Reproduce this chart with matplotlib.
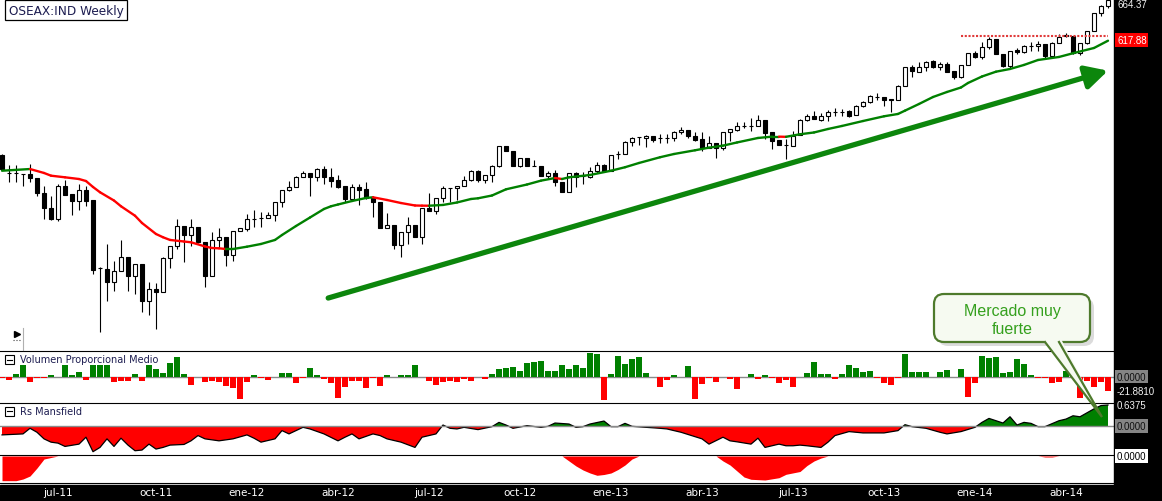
import matplotlib
matplotlib.use('Agg')
import matplotlib.pyplot as plt
import numpy as np
import pandas as pd
from matplotlib.collections import LineCollection
from matplotlib.patches import FancyBboxPatch, Rectangle, Polygon
from matplotlib.transforms import blended_transform_factory, ScaledTranslation

# ---- data (weekly bars, OSEAX) ----
first_week = '2011-05-06'

opens = [464.2, 440.6, 440.6, 439.3, 439.3, 434.2, 414.8, 395.4, 381.6, 423.8,
         413.9, 405.2, 419.4, 406.1, 318.3, 317.0, 299.8, 314.1, 332.1, 308.4,
         323.5, 276.1, 291.2, 287.7, 331.2, 347.1, 372.2, 361.3, 370.9, 351.5,
         307.6, 354.9, 358.0, 335.5, 365.7, 368.7, 381.6, 382.9, 382.5, 387.1,
         403.2, 419.0, 422.5, 435.4, 441.0, 435.4, 445.8, 435.4, 432.0, 423.8,
         407.4, 422.5, 420.3, 408.7, 403.9, 369.6, 373.8, 348.0, 364.4, 373.8,
         358.7, 395.8, 392.3, 408.3, 421.2, 421.2, 424.6, 432.0, 444.0, 432.3,
         438.4, 450.4, 475.5, 469.0, 450.4, 460.0, 450.4, 449.6, 437.5, 441.0,
         429.7, 416.8, 440.6, 437.5, 435.4, 444.0, 451.3, 444.0, 465.5, 465.5,
         480.6, 487.1, 485.8, 488.4, 485.8, 485.8, 485.8, 493.6, 496.5, 489.2,
         484.9, 473.3, 479.3, 473.3, 493.6, 496.9, 502.1, 502.1, 502.1, 509.4,
         493.6, 483.6, 477.5, 476.3, 490.1, 509.4, 515.0, 509.8, 514.6, 519.4,
         519.4, 520.7, 516.3, 527.1, 532.3, 539.1, 538.8, 536.5, 535.3, 553.7,
         577.5, 571.8, 577.5, 585.6, 578.3, 581.4, 572.7, 565.4, 580.5, 595.6,
         591.2, 603.3, 614.0, 594.7, 579.6, 600.2, 596.9, 605.4, 604.6, 607.6,
         592.5, 608.5, 617.5, 618.3, 595.6, 608.5, 624.7, 647.2, 656.3]
highs = [465.5, 451.3, 451.3, 439.7, 452.6, 434.2, 424.6, 411.7, 426.8, 432.3,
         413.9, 426.8, 423.8, 406.1, 319.2, 349.3, 327.7, 354.5, 332.1, 323.5,
         323.5, 299.8, 298.6, 332.1, 347.1, 381.6, 372.2, 381.6, 370.9, 351.5,
         364.4, 370.0, 358.0, 365.7, 369.6, 388.0, 393.2, 390.2, 391.0, 403.2,
         419.0, 431.1, 437.5, 444.0, 441.0, 447.1, 449.6, 447.1, 438.4, 423.8,
         426.8, 426.8, 429.7, 410.9, 403.9, 389.3, 373.8, 364.4, 384.6, 373.8,
         395.4, 415.2, 408.3, 424.6, 421.2, 424.6, 437.5, 444.9, 444.9, 438.4,
         451.7, 475.5, 475.5, 469.0, 460.0, 460.0, 458.2, 449.6, 444.0, 445.3,
         429.7, 440.6, 442.7, 442.7, 448.4, 454.8, 452.6, 464.6, 469.8, 482.7,
         487.1, 487.1, 490.1, 488.4, 491.4, 491.4, 495.6, 500.0, 496.5, 493.6,
         493.6, 488.4, 479.3, 493.6, 497.8, 506.5, 506.5, 511.6, 515.9, 509.4,
         493.6, 483.6, 484.9, 495.6, 510.7, 516.8, 520.7, 518.1, 522.7, 524.6,
         523.6, 522.7, 528.8, 534.4, 541.7, 543.9, 538.8, 536.5, 554.6, 577.5,
         580.9, 584.0, 586.0, 586.9, 584.7, 584.0, 572.7, 580.5, 595.6, 598.9,
         609.8, 616.2, 614.0, 594.7, 598.9, 602.0, 606.7, 609.8, 611.1, 607.6,
         609.8, 620.5, 621.4, 618.3, 608.5, 624.7, 647.2, 657.9, 665.5]
lows = [444.9, 429.7, 429.7, 424.6, 429.0, 411.7, 381.6, 380.3, 379.4, 413.0,
        387.1, 393.6, 398.8, 310.2, 236.0, 276.1, 289.0, 314.1, 289.0, 284.7,
        261.9, 258.0, 239.5, 287.7, 318.3, 342.8, 325.7, 346.3, 350.6, 293.4,
        307.6, 344.1, 320.5, 327.7, 365.7, 366.5, 370.9, 370.9, 382.5, 379.4,
        396.7, 418.1, 422.5, 435.4, 410.9, 431.1, 426.8, 422.5, 421.2, 403.9,
        405.2, 399.7, 407.4, 383.8, 369.6, 369.6, 342.8, 332.9, 349.3, 358.7,
        349.3, 392.3, 388.0, 403.9, 403.9, 406.5, 424.6, 431.1, 429.7, 428.1,
        429.7, 448.4, 469.0, 450.4, 448.4, 449.6, 449.6, 437.5, 433.2, 424.6,
        416.1, 416.8, 423.3, 426.8, 434.2, 440.6, 443.2, 444.0, 459.1, 465.5,
        475.5, 477.5, 475.0, 480.6, 479.7, 479.7, 482.7, 491.4, 485.8, 482.7,
        469.0, 473.3, 460.0, 471.1, 482.7, 495.6, 498.7, 495.6, 501.3, 484.9,
        472.0, 477.5, 459.1, 476.3, 490.1, 508.5, 510.7, 507.8, 508.1, 514.2,
        514.2, 512.9, 516.3, 525.8, 531.4, 535.7, 527.9, 520.2, 535.3, 553.7,
        564.6, 571.8, 573.1, 576.2, 574.4, 571.0, 562.4, 564.1, 580.5, 589.1,
        588.2, 601.1, 594.7, 577.5, 576.6, 594.7, 596.0, 598.9, 598.9, 588.2,
        589.5, 608.5, 616.2, 594.7, 593.4, 607.6, 624.7, 644.1, 653.7]
closes = [446.1, 440.6, 440.6, 439.3, 434.2, 414.8, 395.4, 381.6, 423.8, 413.0,
          405.2, 419.4, 405.2, 316.1, 318.3, 299.8, 314.1, 332.1, 308.4, 323.5,
          276.1, 291.2, 287.7, 331.2, 347.1, 372.2, 360.9, 370.9, 351.5, 307.6,
          354.9, 358.0, 335.5, 365.7, 369.6, 381.6, 381.6, 382.9, 387.1, 403.2,
          419.0, 422.5, 435.4, 441.0, 435.4, 445.8, 435.4, 431.1, 423.3, 407.4,
          422.5, 419.4, 408.7, 403.9, 369.6, 373.8, 348.0, 364.4, 373.8, 358.7,
          395.4, 392.3, 408.3, 421.2, 421.2, 424.6, 432.0, 444.0, 432.3, 438.4,
          450.4, 475.5, 469.0, 450.4, 460.0, 450.4, 450.4, 437.5, 441.0, 429.7,
          416.8, 440.6, 436.2, 437.5, 444.0, 451.3, 444.0, 464.6, 465.5, 480.6,
          485.8, 487.1, 488.4, 484.0, 485.8, 485.8, 493.6, 496.5, 489.2, 484.0,
          473.3, 479.3, 473.3, 493.6, 497.8, 501.3, 502.1, 502.1, 509.4, 492.7,
          482.7, 477.5, 477.5, 489.2, 509.4, 515.0, 510.7, 515.0, 519.4, 519.4,
          519.4, 515.0, 527.1, 532.3, 540.0, 539.1, 535.7, 535.3, 553.7, 577.5,
          572.3, 577.5, 584.7, 578.3, 581.4, 571.8, 565.4, 580.5, 595.6, 591.2,
          603.3, 614.0, 594.7, 579.6, 598.9, 596.9, 605.4, 605.4, 607.6, 592.5,
          608.9, 616.2, 619.2, 595.6, 608.5, 624.7, 647.2, 656.3, 664.37]

# moving average (read at sampled weeks)
ma_weeks = [0, 4, 6, 7, 9, 11, 12, 13, 14, 16, 17, 19, 20, 22, 23, 24, 26, 27, 29, 30,
            31, 32, 33, 35, 37, 39, 40, 42, 44, 46, 47, 48, 50, 52, 53, 55, 57, 59, 60, 61,
            63, 65, 67, 68, 70, 72, 75, 77, 79, 80, 81, 84, 87, 89, 91, 94, 96, 99, 101, 103,
            105, 108, 110, 111, 112, 114, 116, 118, 120, 123, 126, 128, 129, 131, 133, 135,
            137, 138, 140, 142, 144, 146, 148, 151, 153, 156, 158]
ma_vals = [443.9, 446.1, 441.0, 437.5, 435.4, 433.2, 430.6, 422.9, 416.1, 405.4,
           398.0, 385.8, 376.4, 362.2, 358.0, 354.5, 352.5, 351.5, 346.1, 344.1,
           343.7, 342.8, 342.8, 345.8, 349.3, 354.5, 360.9, 372.5, 383.5, 394.5,
           398.0, 400.3, 404.8, 408.7, 409.6, 406.1, 402.2, 399.0, 398.8, 398.7,
           399.7, 402.9, 407.4, 408.3, 411.9, 419.9, 426.1, 431.1, 434.5, 433.2,
           435.4, 438.4, 443.9, 448.4, 453.9, 461.3, 465.5, 470.3, 473.7, 476.3,
           480.4, 486.2, 487.9, 487.9, 487.7, 491.0, 493.3, 497.8, 501.7, 508.1,
           514.2, 517.2, 521.5, 530.1, 539.1, 545.6, 551.4, 557.2, 565.6, 571.8,
           575.3, 580.5, 586.9, 590.8, 595.6, 602.4, 611.8]

resistance = 617.88
resistance_weeks = [137, 158]

# Volumen Proporcional Medio
vol = [-2.0, -4.7, 4.7, 18.3, -7.8, -2.0, -2.7, 2.7, 0, 18.3,
       3.1, 7.3, -4.7, 18.3, 18.3, 18.3, -7.8, -6.3, -6.3, 4.2,
       -6.3, 18.3, 12.0, 5.8, 21.4, 30.8, 4.2, -12.5, 0, -8.9,
       -6.3, -7.8, -14.1, -18.3, -34.9, -7.8, 2.7, -1.6, -4.7, 0,
       5.8, 5.8, -9.4, -1.6, 13.6, 2.7, -3.1, -9.8, -32.8, -15.6,
       -6.3, -6.3, -17.2, -1.6, -14.1, 2.7, 0, 2.7, 2.7, 18.3,
       0, -6.3, -12.5, -7.8, -6.3, -7.8, -3.6, -6.3, 0, -3.1,
       4.2, 12.0, 13.6, 15.2, 8.9, 21.4, 23.0, 24.5, 8.9, 8.9,
       18.3, 12.0, 18.3, 13.6, 37.0, 35.5, -35.9, 4.2, 32.4, 19.8,
       27.7, 30.8, 5.8, 0, -15.6, -4.7, 2.7, 0, 16.7, -34.4,
       -10.9, -2.0, -7.8, 0, -3.1, -18.8, 0, 4.2, -3.1, 2.7,
       -1.6, -9.4, -4.7, -15.6, 0, 5.2, 22.4, 4.2, 4.2, -3.1,
       4.2, 18.3, 13.0, 7.8, 8.9, -1.6, -9.8, -12.5, -2.0, 35.5,
       7.3, 7.3, 7.3, 0, 7.3, 10.9, 0, 12.0, -31.3, -9.8,
       32.4, 29.7, 30.8, 6.3, 7.3, 27.7, 19.2, 3.1, -2.0, -2.0,
       -10.5, -7.8, 9.4, 3.1, -33.9, -6.3, -16.7, -7.8, -21.881]

# Rs Mansfield (sampled weeks)
rs_weeks = [0, 3, 4, 5, 6, 7, 8, 9, 11, 12, 13, 14, 15, 16, 17, 18, 19, 20, 21, 22,
            23, 24, 26, 27, 28, 29, 31, 33, 35, 36, 37, 39, 40, 41, 43, 44, 46, 48, 49, 50,
            51, 53, 54, 55, 57, 59, 60, 62, 63, 64, 65, 66, 68, 70, 71, 72, 73, 75, 77, 78,
            79, 81, 82, 83, 84, 86, 87, 88, 89, 90, 92, 94, 95, 97, 100, 101, 103, 104, 105, 107,
            108, 109, 111, 112, 113, 114, 115, 117, 118, 119, 121, 123, 125, 126, 128, 129, 130,
            132, 134, 135, 137, 139, 140, 141, 143, 144, 145, 146, 147, 148, 149, 151, 152, 153,
            154, 156, 157, 158]
rs_vals = [-0.27, -0.24, -0.07, -0.19, -0.39, -0.49, -0.52, -0.62, -0.55, -0.34,
           -0.78, -0.65, -0.39, -0.62, -0.37, -0.58, -0.75, -0.73, -0.55, -0.70,
           -0.65, -0.58, -0.56, -0.45, -0.29, -0.39, -0.45, -0.39, -0.27, -0.37,
           -0.49, -0.39, -0.14, -0.24, -0.04, -0.09, -0.24, -0.45, -0.34, -0.24,
           -0.39, -0.24, -0.29, -0.39, -0.49, -0.65, -0.34, -0.24, 0.03, -0.07,
           -0.09, -0.04, -0.11, -0.02, 0.11, 0.03, -0.07, 0.01, -0.04, -0.01,
           0.09, 0.06, -0.04, -0.02, 0.06, 0.15, -0.02, -0.02, 0.08, -0.01,
           -0.04, -0.07, -0.09, -0.19, -0.39, -0.55, -0.34, -0.45, -0.48, -0.55,
           -0.37, -0.65, -0.55, -0.60, -0.60, -0.58, -0.60, -0.65, -0.49, -0.29,
           -0.17, -0.21, -0.21, -0.21, -0.14, 0.04, -0.02, -0.07, -0.19, -0.24,
           -0.17, -0.04, 0.11, 0.23, 0.09, 0.28, 0.03, 0.11, 0.08, -0.02,
           -0.02, 0.16, 0.21, 0.31, 0.28, 0.52, 0.62, 0.6375]

# third indicator (unlabelled, only negative areas)
bot_weeks = [0, 1, 2, 3, 4, 5, 6, 7, 8,
             80, 81, 82, 83, 84, 85, 86, 87, 88, 89, 90, 91,
             102, 103, 104, 105, 106, 107, 109, 111, 112, 114, 115, 116, 117, 118,
             148, 149, 150, 151, 158]
bot_vals = [-24.7, -24.7, -24.7, -23, -20, -12, -3, -1.5, 0,
            0, -5, -10, -14, -17, -19.3, -18.5, -17, -13.5, -9, -3, 0,
            0, -5, -9, -15, -21, -23.3, -24, -21.7, -18.3, -15.5, -9.5, -5, -2, 0,
            0, -1, -1, 0, 0]

meses = {1: 'ene', 4: 'abr', 7: 'jul', 10: 'oct'}

# ---- figure layout (pixel based) ----
W, H = 1162, 502
PW = 1114
GREEN = '#008000'
RED = '#ff0000'
NAVY = '#1c1c50'

fig = plt.figure(figsize=(W / 100, H / 100), dpi=100)
fig.patch.set_facecolor('white')


def rect(top, bottom):
    return [0, 1 - bottom / H, PW / W, (bottom - top) / H]


ax = fig.add_axes(rect(0, 352))
axv = fig.add_axes(rect(352, 404), sharex=ax)
axr = fig.add_axes(rect(404, 456), sharex=ax)
axb = fig.add_axes(rect(456, 484), sharex=ax)

n = len(closes)
x = np.arange(n)
for a in (ax, axv, axr, axb):
    a.set_xlim(-2 / 7, (PW - 2) / 7)
    a.set_xticks([])
    a.set_yticks([])
    for s in a.spines.values():
        s.set_visible(False)
for a in (axv, axr, axb):
    a.spines['top'].set_visible(True)
    a.spines['top'].set_linewidth(0.8)
axb.spines['bottom'].set_visible(True)
axb.spines['bottom'].set_linewidth(0.8)

# ---- price panel ----
o = np.array(opens); h = np.array(highs); l = np.array(lows); c = np.array(closes)
up = c >= o
lo = np.minimum(o, c)
bh = np.abs(c - o)
ax.vlines(x, l, h, color='black', lw=0.8, zorder=2)
ax.bar(x[up], bh[up], bottom=lo[up], width=0.68, color='white', edgecolor='black', lw=0.8, zorder=3)
ax.bar(x[~up], bh[~up], bottom=lo[~up], width=0.68, color='black', edgecolor='black', lw=0.8, zorder=3)

pts = np.column_stack([ma_weeks, ma_vals])
segs = np.stack([pts[:-1], pts[1:]], axis=1)
seg_cols = np.where(np.diff(ma_vals) < 0, RED, GREEN)
ax.add_collection(LineCollection(segs, colors=seg_cols, lw=1.7, zorder=4, capstyle='round'))

ax.hlines(resistance, resistance_weeks[0], resistance_weeks[1], colors='#e03a3a',
          linestyles=(0, (1, 0.8)), lw=1.5, zorder=4)

# trend arrow
ax.annotate('', xy=(158.0, 573.1), xytext=(46.6, 279.5),
            arrowprops=dict(arrowstyle='-|>,head_length=0.95,head_width=0.5', lw=3.8,
                            color='#0c860c', shrinkA=0, shrinkB=0, mutation_scale=14),
            zorder=5)
ax.set_ylim(211.1, 665.66)

# ---- volume panel ----
vol = np.array(vol)
axv.bar(x, vol, width=0.72, color=np.where(vol >= 0, GREEN, RED), lw=0, zorder=2)
axv.axhline(0, color='#8a8a8a', lw=1, zorder=1)
axv.set_ylim(-41.1, 40.2)

# ---- Rs Mansfield ----
rsw = np.array(rs_weeks); rsv = np.array(rs_vals)
axr.fill_between(rsw, rsv, 0, where=rsv >= 0, interpolate=True, color=GREEN, lw=0)
axr.fill_between(rsw, rsv, 0, where=rsv <= 0, interpolate=True, color=RED, lw=0)
axr.plot(rsw, rsv, color='black', lw=0.9)
axr.axhline(0, color='#8a8a8a', lw=1)
axr.set_ylim(-0.880, 0.698)

# ---- bottom indicator ----
axb.fill_between(bot_weeks, bot_vals, 0, color=RED, lw=0)
axb.set_ylim(-27, 1)

# ---- black frames ----
fig.add_artist(Rectangle((PW / W, 0), 1 - PW / W, 1, transform=fig.transFigure,
                         color='black', zorder=0.5))
fig.add_artist(Rectangle((0, 0), 1, 16 / H, transform=fig.transFigure,
                         color='black', zorder=0.5))

# date labels
dates = pd.date_range(first_week, periods=n, freq='W-FRI')
month = dates.month.values
tr_x = blended_transform_factory(axb.transData, fig.transFigure)
for i in range(1, n):
    if month[i] != month[i - 1] and month[i] in meses:
        fig.text(i, 1 - 493 / H, f"{meses[month[i]]}-{dates[i].year % 100:02d}",
                 transform=tr_x, color='white', ha='center', va='center', fontsize=7.5)


# right side value labels
def side_label(axis, val, txt, fg='#f2f2f2', bg=None, dy=0):
    tr = blended_transform_factory(fig.transFigure, axis.transData)
    if dy:
        tr = tr + ScaledTranslation(0, dy / 100, fig.dpi_scale_trans)
    kw = {}
    if bg:
        kw['bbox'] = dict(boxstyle='square,pad=0.18', fc=bg, ec='none')
    fig.text(1117 / W, val, txt, transform=tr, color=fg, fontsize=7, va='center',
             ha='left', family='Liberation Sans', **kw)


side_label(ax, closes[-1], f"{closes[-1]:.2f}", dy=-4)
side_label(ax, resistance, f"{resistance:.2f}", fg='white', bg='#ff0000', dy=-4)
side_label(axv, 0, '0.0000', fg='#101010', bg='#858585')
side_label(axv, vol[-1], f"{vol[-1]:.4f}")
side_label(axr, rs_vals[-1], f"{rs_vals[-1]:.4f}")
side_label(axr, 0, '0.0000', fg='#101010', bg='#858585')
side_label(axb, 0, '0.0000', fg='black', bg='white')

# ---- overlay in pixel coordinates ----
ov = fig.add_axes([0, 0, 1, 1], zorder=20)
ov.set_xlim(0, W)
ov.set_ylim(H, 0)
ov.axis('off')

ov.text(9, 11, 'OSEAX:IND Weekly', fontsize=8.7, color=NAVY, va='center', ha='left',
        bbox=dict(boxstyle='square,pad=0.3', fc='white', ec='black', lw=0.9))

for ytop, label in [(356, 'Volumen Proporcional Medio'), (407.5, 'Rs Mansfield')]:
    ov.add_patch(Rectangle((5, ytop), 9, 9, fc='white', ec='black', lw=0.8))
    ov.plot([7, 12], [ytop + 4.5, ytop + 4.5], color='black', lw=0.8)
    ov.text(20, ytop + 4.5, label, fontsize=7, color=NAVY, va='center', ha='left')

ov.plot([17], [335], marker='>', ms=4.5, color='black')
ov.plot([13, 21], [341, 341], ls=':', color='#444444', lw=0.8)
ov.plot([23, 23], [329, 351], color='#b0b0b0', lw=0.8)

# callout
ov.add_patch(FancyBboxPatch((938, 299), 156, 48, boxstyle='round,pad=0,rounding_size=10',
                            fc='#9a9a9a', ec='none', alpha=0.35))
ov.add_patch(FancyBboxPatch((934, 295), 156, 48, boxstyle='round,pad=0,rounding_size=10',
                            fc='#f6faf1', ec='#4e7a2c', lw=1.6))
ov.add_patch(Polygon([(1043, 340), (1061, 340), (1102, 418)], closed=True,
                     fc='#f6faf1', ec='none'))
ov.plot([1045, 1102, 1059], [343, 418, 343], color='#4e7a2c', lw=1.6,
        solid_joinstyle='miter')
ov.text(1012, 312, 'Mercado muy', fontsize=11.5, color='#35a01e', ha='center', va='center',
        family='Liberation Sans')
ov.text(1012, 329.5, 'fuerte', fontsize=11.5, color='#35a01e', ha='center', va='center',
        family='Liberation Sans')

fig.savefig('out.png', dpi=100)
